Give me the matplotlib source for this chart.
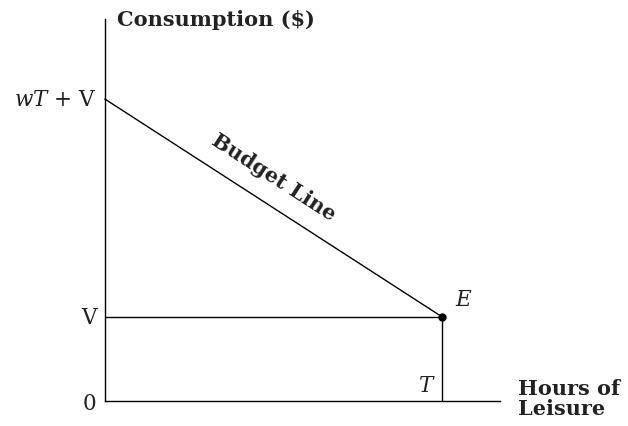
import math
import matplotlib
matplotlib.use("Agg")
import matplotlib.pyplot as plt

plt.rcParams['font.family'] = ['DejaVu Serif']
plt.rcParams['mathtext.fontset'] = 'dejavuserif'

# model values (hours of leisure, consumption in $)
T = 24.0
w = 2.163
V = 20.0
x_max = 28.1
y_max = 91.0

budget_x = [0, T]
budget_y = [w * T + V, V]
ink = "#222222"

fig = plt.figure(figsize=(6.28, 4.27), dpi=100)
ax = fig.add_axes([105 / 628, 25 / 427, 395 / 628, 382 / 427])
ax.set_xlim(0, x_max)
ax.set_ylim(0, y_max)
for s in ["top", "right"]:
    ax.spines[s].set_visible(False)
for s in ["left", "bottom"]:
    ax.spines[s].set_linewidth(1.0)
    ax.spines[s].set_color("black")
ax.set_xticks([])
ax.set_yticks([])

# budget line, endowment floor and T line
ax.plot(budget_x, budget_y, color="black", lw=1.0, clip_on=False)
ax.plot([0, T], [V, V], color="black", lw=1.0)
ax.plot([T, T], [0, V], color="black", lw=1.0)
ax.plot([T], [V], "o", color="black", ms=5, zorder=5)

# rotation of budget label from display slope
fig.canvas.draw()
p0 = ax.transData.transform((budget_x[0], budget_y[0]))
p1 = ax.transData.transform((budget_x[1], budget_y[1]))
ang = math.degrees(math.atan2(p1[1] - p0[1], p1[0] - p0[0]))
ax.text(T * 0.5, w * T * 0.5 + V + 7.5, "Budget Line", rotation=ang,
        rotation_mode="anchor", ha="center", va="center", fontsize=15,
        fontweight="bold", color=ink)

# axis value labels
ax.text(-0.6, w * T + V, r"$wT$ + V", ha="right", va="center", fontsize=15.5, color=ink)
ax.text(-0.6, V, "V", ha="right", va="center", fontsize=15.5, color=ink)
ax.text(-0.6, -0.4, "0", ha="right", va="center", fontsize=15.5, color=ink)
ax.text(T - 0.5, 1.3, r"$T$", ha="right", va="bottom", fontsize=15.5, color=ink)
ax.text(T + 0.9, V + 1.6, r"$E$", ha="left", va="bottom", fontsize=15.5, color=ink)

# axis titles
ax.text(0.03, 1.0, "Consumption ($)", transform=ax.transAxes, ha="left", va="center",
        fontsize=15, fontweight="bold", color=ink)
ax.text(1.045, 0.008, "Hours of\nLeisure", transform=ax.transAxes, ha="left", va="center",
        fontsize=15, fontweight="bold", color=ink, linespacing=1.0)

fig.savefig("out.png", dpi=100)
